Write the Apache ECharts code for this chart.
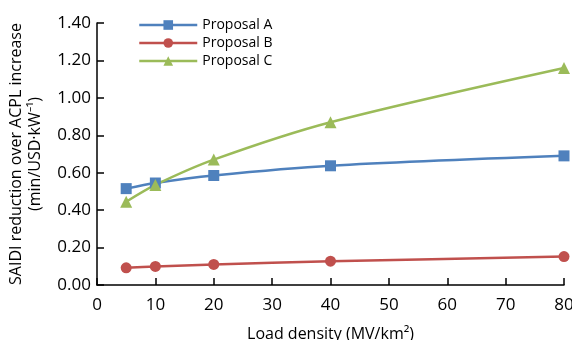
<!DOCTYPE html>
<html><head><meta charset="utf-8">
<script src="https://cdn.jsdelivr.net/npm/echarts@6/dist/echarts.min.js"></script>
<style>html,body{margin:0;padding:0;background:#fff}#c{width:572px;height:340px}</style>
</head><body><div id="c"></div>
<script>
const xValues = [5, 10, 20, 40, 80];
const seriesNames = ['Proposal A', 'Proposal B', 'Proposal C'];
const proposalA = [0.515, 0.545, 0.585, 0.637, 0.69];
const proposalB = [0.092, 0.099, 0.11, 0.127, 0.152];
const proposalC = [0.445, 0.535, 0.67, 0.87, 1.16];
const colors = ['#4F81BD', '#C0504D', '#9BBB59'];
const symbols = ['rect', 'circle', 'triangle'];
const font = '"Open Sans", sans-serif';

const chart = echarts.init(document.getElementById('c'));
const data = [proposalA, proposalB, proposalC];
chart.setOption({
  animation: false,
  textStyle: {fontFamily: font},
  grid: {left: 97, right: 8, top: 23, bottom: 55, outerBoundsMode: 'none', containLabel: false},
  legend: {
    orient: 'vertical', left: 133, top: 13, itemGap: 4, itemWidth: 58, itemHeight: 12,
    textStyle: {fontSize: 14, color: '#000', fontFamily: font},
    lineStyle: {width: 2.5},
    data: seriesNames
  },
  xAxis: {
    type: 'value', min: 0, max: 80, interval: 10,
    name: 'Load density (MV/km²)', nameLocation: 'middle', nameGap: 41,
    nameTextStyle: {fontSize: 16, color: '#000', fontFamily: font},
    axisLine: {lineStyle: {color: '#000', width: 1.5}},
    axisTick: {inside: true, length: 7, lineStyle: {color: '#000', width: 1.5}},
    axisLabel: {fontSize: 17, color: '#000', margin: 12},
    splitLine: {show: false}
  },
  yAxis: {
    type: 'value', min: 0, max: 1.4, interval: 0.2,
    name: 'SAIDI reduction over ACPL increase\n(min/USD·kW⁻¹)', nameLocation: 'middle', nameGap: 52,
    nameTextStyle: {fontSize: 16, color: '#000', lineHeight: 19, fontFamily: font},
    axisLine: {show: true, lineStyle: {color: '#000', width: 1.5}},
    axisTick: {show: true, inside: true, length: 7, lineStyle: {color: '#000', width: 1.5}},
    axisLabel: {fontSize: 17, color: '#000', margin: 6, formatter: v => v.toFixed(2)},
    splitLine: {show: false}
  },
  series: seriesNames.map((n, i) => ({
    name: n, type: 'line', smooth: 0.3,
    data: xValues.map((x, j) => [x, data[i][j]]),
    symbol: symbols[i], symbolSize: symbols[i] === 'triangle' ? 12 : 11,
    lineStyle: {color: colors[i], width: 2.5},
    itemStyle: {color: colors[i]}
  }))
});
</script></body></html>
